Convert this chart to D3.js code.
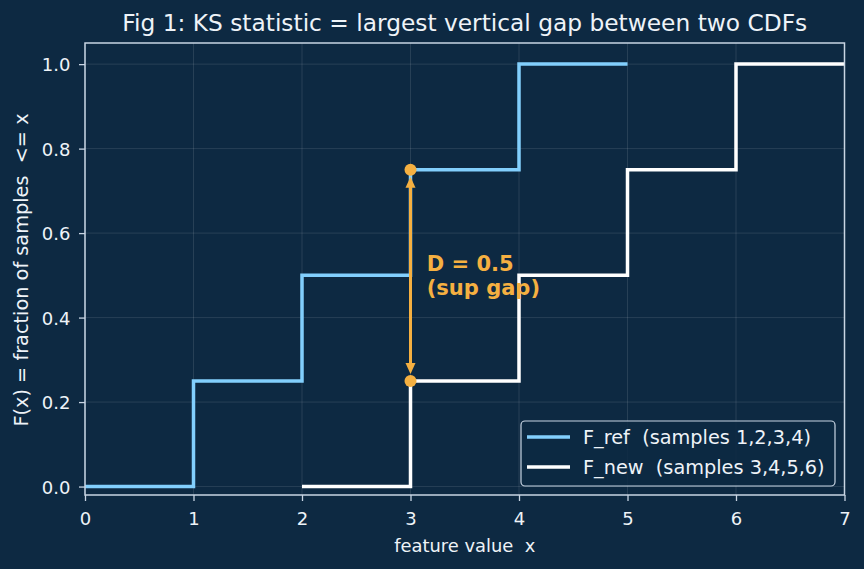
<!DOCTYPE html>
<html><head><meta charset="utf-8">
<script src="https://cdn.jsdelivr.net/npm/d3@7"></script>
<style>
html,body{margin:0;padding:0;background:#0d2942;}
svg{display:block;font-family:"DejaVu Sans",sans-serif;}
svg text{white-space:pre;}
</style></head>
<body>
<svg id="chart" width="864" height="569"></svg>
<script>
// ---- data ----
const refX = [0, 1, 2, 3, 4, 5];
const refY = [0, 0.25, 0.5, 0.75, 1, 1];
const newX = [2, 3, 4, 5, 6, 7];
const newY = [0, 0.25, 0.5, 0.75, 1, 1];
const xTicks = [0, 1, 2, 3, 4, 5, 6, 7];
const yTicks = [0, 0.2, 0.4, 0.6, 0.8, 1.0];
const gapX = 3, gapLow = 0.25, gapHigh = 0.75;
const seriesNames = ["F_ref  (samples 1,2,3,4)", "F_new  (samples 3,4,5,6)"];
const titleText = "Fig 1: KS statistic = largest vertical gap between two CDFs";
const annoLines = ["D = 0.5", "(sup gap)"];

// ---- style ----
const bg = "#0d2942", fg = "#eef3f8", spine = "#c8d5e3";
const blue = "#82cffd", white = "#ffffff", orange = "#f5b041";

const svg = d3.select("#chart");
svg.append("rect").attr("width", 864).attr("height", 569).attr("fill", bg);

const L = 85, R = 844.5, T = 43, B = 495;
const x = d3.scaleLinear().domain([0, 7]).range([L, R]);
const y = d3.scaleLinear().domain([-0.02, 1.05]).range([B, T]);

// grid
const g = svg.append("g");
g.selectAll(".gx").data(xTicks).join("line")
  .attr("x1", d => x(d)).attr("x2", d => x(d)).attr("y1", T).attr("y2", B)
  .attr("stroke", "#ffffff").attr("stroke-opacity", 0.14).attr("stroke-width", 0.8);
g.selectAll(".gy").data(yTicks).join("line")
  .attr("y1", d => y(d)).attr("y2", d => y(d)).attr("x1", L).attr("x2", R)
  .attr("stroke", "#ffffff").attr("stroke-opacity", 0.14).attr("stroke-width", 0.8);

// axes
const xAxis = svg.append("g").attr("transform", `translate(0,${B})`)
  .call(d3.axisBottom(x).tickValues(xTicks).tickFormat(d3.format("d")).tickSize(6).tickPadding(5));
const yAxis = svg.append("g").attr("transform", `translate(${L},0)`)
  .call(d3.axisLeft(y).tickValues(yTicks).tickFormat(d3.format(".1f")).tickSize(6).tickPadding(8.5));
[xAxis, yAxis].forEach(a => {
  a.select(".domain").remove();
  a.selectAll(".tick line").attr("stroke", spine).attr("stroke-width", 1.3);
  a.selectAll(".tick text").attr("fill", fg).attr("font-size", "18px")
    .attr("font-family", "DejaVu Sans");
});
xAxis.selectAll(".tick text").attr("y", 30).attr("dy", "0");
yAxis.selectAll(".tick text").attr("dy", "0.36em");

// series (steps-post)
const line = d3.line().x(d => x(d[0])).y(d => y(d[1])).curve(d3.curveStepAfter);
const refPts = refX.map((v, i) => [v, refY[i]]);
const newPts = newX.map((v, i) => [v, newY[i]]);
svg.append("path").attr("d", line(refPts)).attr("fill", "none")
  .attr("stroke", blue).attr("stroke-width", 3.5);
svg.append("path").attr("d", line(newPts)).attr("fill", "none")
  .attr("stroke", white).attr("stroke-width", 3.5);

// spines
svg.append("rect").attr("x", L).attr("y", T).attr("width", R - L).attr("height", B - T)
  .attr("fill", "none").attr("stroke", spine).attr("stroke-width", 1.5);

// gap arrow
const ax = x(gapX), yTop = y(gapHigh), yBot = y(gapLow);
const shrink = 7, headL = 11, headW = 5;
svg.append("line").attr("x1", ax).attr("x2", ax)
  .attr("y1", yTop + shrink + headL - 2).attr("y2", yBot - shrink - headL + 2)
  .attr("stroke", orange).attr("stroke-width", 3);
svg.append("path")
  .attr("d", `M${ax},${yTop + shrink} L${ax - headW},${yTop + shrink + headL} L${ax + headW},${yTop + shrink + headL} Z`)
  .attr("fill", orange);
svg.append("path")
  .attr("d", `M${ax},${yBot - shrink} L${ax - headW},${yBot - shrink - headL} L${ax + headW},${yBot - shrink - headL} Z`)
  .attr("fill", orange);
svg.selectAll(".dot").data([gapLow, gapHigh]).join("circle")
  .attr("cx", ax).attr("cy", d => y(d)).attr("r", 6).attr("fill", orange);

// annotation
const anno = svg.append("text").attr("x", x(3.15)).attr("y", y(0.5))
  .attr("fill", orange).attr("font-weight", "bold").attr("font-size", "21px");
anno.selectAll("tspan").data(annoLines).join("tspan")
  .attr("x", x(3.15)).attr("dy", (d, i) => i === 0 ? "-0.22em" : "1.15em").text(d => d);

// title
svg.append("text").attr("x", (L + R) / 2).attr("y", 31).attr("text-anchor", "middle")
  .attr("fill", fg).attr("font-size", "23.3px").text(titleText);

// axis labels
svg.append("text").attr("x", (L + R) / 2).attr("y", 552).attr("text-anchor", "middle")
  .attr("fill", fg).attr("font-size", "17.9px").text("feature value  x");
svg.append("text").attr("transform", `translate(28,${(T + B) / 2 + 1}) rotate(-90)`)
  .attr("text-anchor", "middle").attr("fill", fg).attr("font-size", "19.3px")
  .text("F(x) = fraction of samples  <= x");

// legend
const lg = svg.append("g");
lg.append("rect").attr("x", 521).attr("y", 421).attr("width", 314).attr("height", 65)
  .attr("rx", 4).attr("fill", bg).attr("fill-opacity", 0.85)
  .attr("stroke", spine).attr("stroke-width", 1.2);
const items = [{name: seriesNames[0], c: blue}, {name: seriesNames[1], c: white}];
items.forEach((it, i) => {
  const cy = 437 + i * 30;
  lg.append("line").attr("x1", 527).attr("x2", 570).attr("y1", cy).attr("y2", cy)
    .attr("stroke", it.c).attr("stroke-width", 3.5);
  lg.append("text").attr("x", 583).attr("y", cy).attr("dy", "0.36em")
    .attr("fill", fg).attr("font-size", "19.3px").text(it.name);
});
</script>
</body></html>
